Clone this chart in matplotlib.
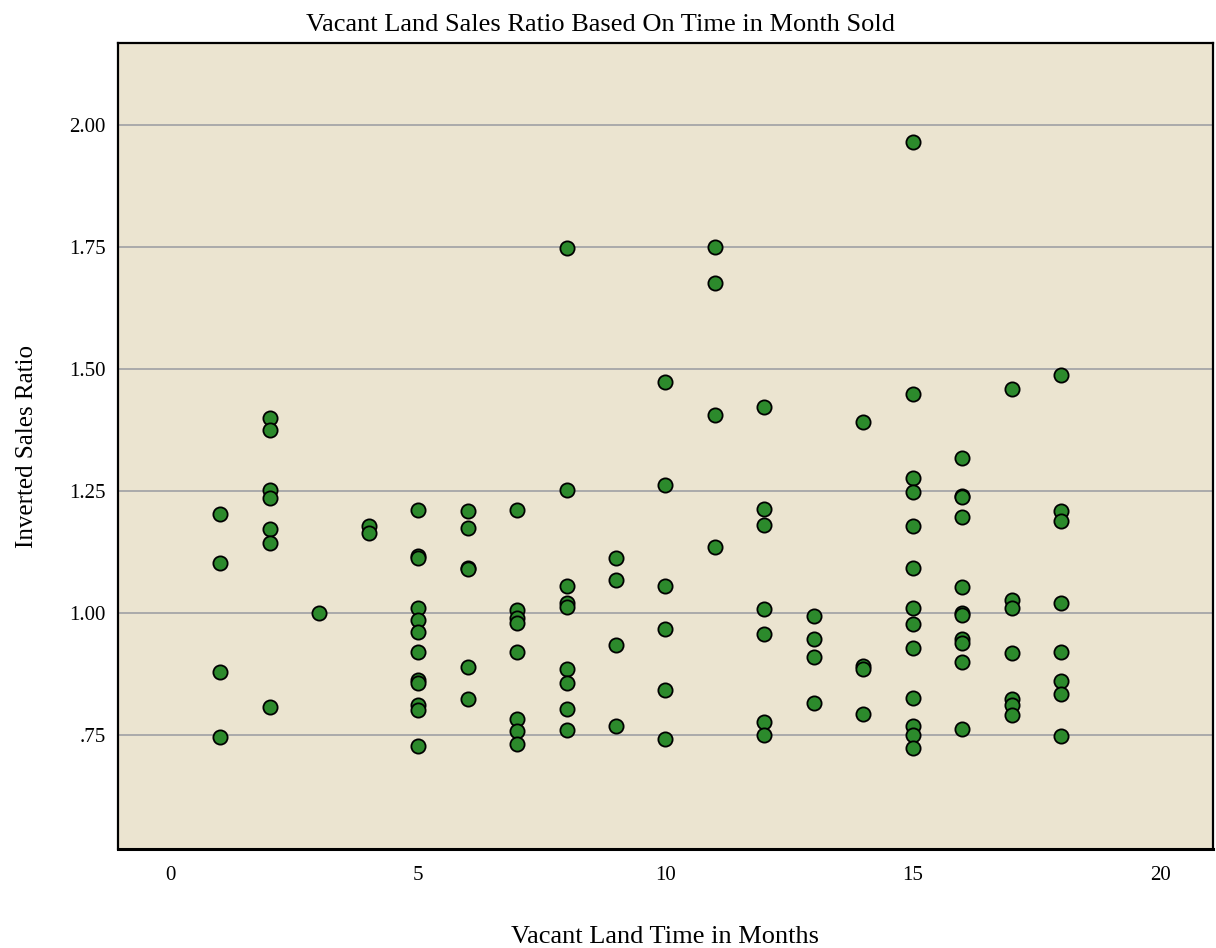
import matplotlib
matplotlib.use("Agg")
import matplotlib.pyplot as plt
from matplotlib.ticker import FixedLocator, FixedFormatter

months = [1, 1, 1, 1,
          2, 2, 2, 2, 2, 2, 2,
          3,
          4, 4,
          5, 5, 5, 5, 5, 5, 5, 5, 5, 5, 5, 5,
          6, 6, 6, 6, 6, 6,
          7, 7, 7, 7, 7, 7, 7, 7,
          8, 8, 8, 8, 8, 8, 8, 8, 8,
          9, 9, 9, 9,
          10, 10, 10, 10, 10, 10,
          11, 11, 11, 11,
          12, 12, 12, 12, 12, 12, 12,
          13, 13, 13, 13,
          14, 14, 14, 14,
          15, 15, 15, 15, 15, 15, 15, 15, 15, 15, 15, 15, 15,
          16, 16, 16, 16, 16, 16, 16, 16, 16, 16, 16,
          17, 17, 17, 17, 17, 17, 17,
          18, 18, 18, 18, 18, 18, 18, 18]
ratios = [1.203, 1.102, 0.879, 0.745,
          1.399, 1.375, 1.252, 1.235, 1.171, 1.144, 0.808,
          0.999,
          1.179, 1.164,
          1.211, 1.117, 1.112, 1.011, 0.986, 0.960, 0.919, 0.863, 0.856, 0.811, 0.801, 0.728,
          1.209, 1.175, 1.093, 1.089, 0.890, 0.824,
          1.210, 1.006, 0.989, 0.979, 0.920, 0.783, 0.757, 0.731,
          1.748, 1.251, 1.055, 1.021, 1.013, 0.884, 0.857, 0.804, 0.760,
          1.112, 1.068, 0.934, 0.769,
          1.474, 1.263, 1.055, 0.968, 0.841, 0.742,
          1.750, 1.676, 1.406, 1.136,
          1.423, 1.213, 1.180, 1.008, 0.956, 0.777, 0.750,
          0.994, 0.947, 0.910, 0.816,
          1.392, 0.891, 0.885, 0.793,
          1.965, 1.449, 1.276, 1.247, 1.179, 1.091, 1.010, 0.977, 0.928, 0.826, 0.768, 0.750, 0.723,
          1.317, 1.240, 1.237, 1.197, 1.054, 0.999, 0.996, 0.947, 0.938, 0.899, 0.762,
          1.458, 1.027, 1.010, 0.917, 0.823, 0.811, 0.791,
          1.488, 1.208, 1.189, 1.021, 0.919, 0.861, 0.834, 0.748]

x_ticks = [0, 5, 10, 15, 20]
x_tick_labels = ["0", "5", "10", "15", "20"]
y_ticks = [0.75, 1.00, 1.25, 1.50, 1.75, 2.00]
y_tick_labels = [".75", "1.00", "1.25", "1.50", "1.75", "2.00"]

title = "Vacant Land Sales Ratio Based On Time in Month Sold"
x_label = "Vacant Land Time in Months"
y_label = "Inverted Sales Ratio"

plt.rcParams['font.family'] = ['Liberation Serif', 'DejaVu Serif']

fig = plt.figure(figsize=(12.16, 9.48), dpi=100)
ax = fig.add_axes([0.097, 0.1044, 0.9005, 0.8502])
ax.set_facecolor("#ebe4d0")

ax.set_xlim(-1.07, 21.07)
ax.set_ylim(0.516, 2.168)

ax.yaxis.set_major_locator(FixedLocator(y_ticks))
ax.yaxis.set_major_formatter(FixedFormatter(y_tick_labels))
ax.xaxis.set_major_locator(FixedLocator(x_ticks))
ax.xaxis.set_major_formatter(FixedFormatter(x_tick_labels))

ax.grid(axis='y', color="#aaaaaa", linewidth=1.4, zorder=1)
ax.set_axisbelow(True)

ax.scatter(months, ratios, s=105, c="#2c8a2c", edgecolors="black",
           linewidths=1.3, zorder=3)

ax.tick_params(axis='both', length=0, labelsize=15)
ax.tick_params(axis='x', pad=12)
ax.tick_params(axis='y', pad=9)

for side in ['left', 'right', 'top', 'bottom']:
    ax.spines[side].set_color("black")
    ax.spines[side].set_linewidth(1.6)
ax.spines['bottom'].set_linewidth(2.2)

fig.text(600 / 1216, 1 - 31 / 948, title, fontsize=19, ha='center', va='baseline')
ax.set_xlabel(x_label, fontsize=19, labelpad=30)
ax.set_ylabel(y_label, fontsize=18, labelpad=22)

fig.savefig("out.png", dpi=100)
